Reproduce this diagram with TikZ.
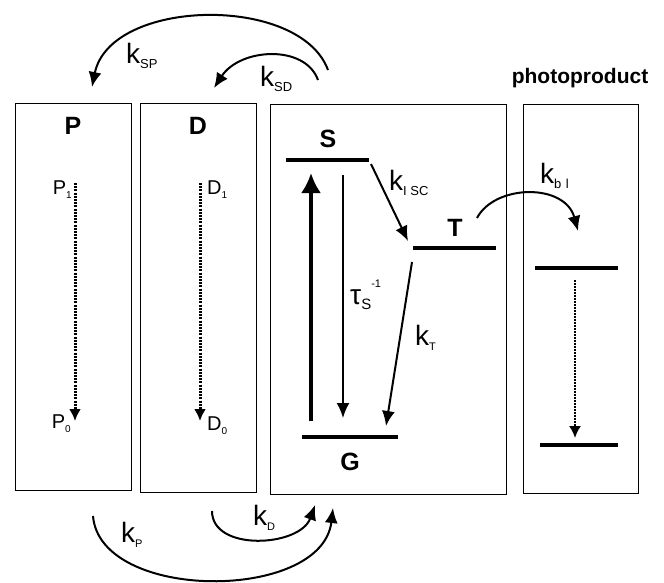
\documentclass[tikz,border=0pt]{standalone}
\usepackage{fontspec}
\setmainfont{Liberation Sans}
\usetikzlibrary{arrows.meta}
\newcommand{\sbs}[2]{\raisebox{-0.35ex}{\fontsize{#1}{#1}\selectfont #2}}
\begin{document}
\begin{tikzpicture}[x=1pt,y=-1pt,
  panel/.style={draw,line width=0.7pt},
  level/.style={line width=3.4pt},
  big/.style={font=\fontsize{25}{27}\selectfont\bfseries},
  klab/.style={font=\fontsize{28}{30}\selectfont},
  slab/.style={font=\fontsize{20}{22}\selectfont},
  arr/.style={line width=2pt,-{Latex[length=15pt,width=13pt]}},
  darr/.style={line width=3pt,dash pattern=on 2pt off 1.2pt,-{Latex[length=12pt,width=12pt]}}]
\useasboundingbox (0,0) rectangle (664,583);
% panels
\draw[panel] (15,103) rectangle (131,490);
\draw[panel] (140,103) rectangle (256,492);
\draw[panel] (270,104) rectangle (506,494);
\draw[panel] (523,104) rectangle (638,493);
% titles
\node[big] (Pt) at (73,126) {P};
\node[big] (Dt) at (198,126) {D};
\node[big] (St) at (328,139) {S};
\node[big] (Tt) at (455,228) {T};
\node[big] (Gt) at (350,462) {G};
\node[font=\fontsize{21}{23}\selectfont\bfseries] (pp) at (580,78) {photoproduct};
% levels
\coordinate (S1) at (286,160); \coordinate (S2) at (369,160);
\coordinate (T1) at (413,248); \coordinate (T2) at (496,248);
\coordinate (G1) at (302,437); \coordinate (G2) at (398,437);
\coordinate (Q1) at (535,268); \coordinate (Q2) at (618,268);
\coordinate (R1) at (540,445); \coordinate (R2) at (618,445);
\draw[level] (S1) -- (S2);
\draw[level] (T1) -- (T2);
\draw[level] (G1) -- (G2);
\draw[level] (Q1) -- (Q2);
\draw[level] (R1) -- (R2);
% transitions
\coordinate (a0) at (311,421); \coordinate (a1) at (311,173);
\draw[line width=3.4pt,-{Latex[length=20pt,width=20pt]}] (a0) -- (a1);
\coordinate (b0) at (343,175); \coordinate (b1) at (343,418);
\draw[arr] (b0) -- (b1);
\coordinate (c0) at (371,164); \coordinate (c1) at (408,241);
\draw[arr] (c0) -- (c1);
\coordinate (d0) at (412,262); \coordinate (d1) at (386,426);
\draw[arr] (d0) -- (d1);
\node[klab,anchor=west,inner sep=0] (kisc) at (389,183) {k\sbs{13}{I SC}};
\node[klab,anchor=west,inner sep=0] (tau) at (350,295) {τ\sbs{15}{S}\raisebox{1.1ex}{\fontsize{11}{12}\selectfont -1}};
\node[klab,anchor=west,inner sep=0] (kT) at (415,338) {k\sbs{11}{T}};
% P and D
\coordinate (p1) at (75,183); \coordinate (p0) at (75,421);
\draw[darr] (p1) -- (p0);
\node[slab,anchor=east,inner sep=0] (P1) at (72,190) {P\raisebox{-0.4ex}{\fontsize{10}{10}\selectfont 1}};
\node[slab,anchor=east,inner sep=0] (P0) at (71,424) {P\raisebox{-0.4ex}{\fontsize{10}{10}\selectfont 0}};
\coordinate (e1) at (200,183); \coordinate (e0) at (200,421);
\draw[darr] (e1) -- (e0);
\node[slab,anchor=west,inner sep=0] (D1) at (207,190) {D\raisebox{-0.4ex}{\fontsize{10}{10}\selectfont 1}};
\node[slab,anchor=west,inner sep=0] (D0) at (207,426) {D\raisebox{-0.4ex}{\fontsize{10}{10}\selectfont 0}};
% photoproduct decay
\coordinate (f1) at (575,280); \coordinate (f0) at (575,438);
\draw[darr,line width=2pt,dash pattern=on 1.6pt off 1.4pt] (f1) -- (f0);
% k_bl
\coordinate (g0) at (477,218); \coordinate (g1) at (578,231);
\draw[arr] (g0) .. controls (495,184) and (565,183) .. (g1);
\node[klab,anchor=west,inner sep=0] (kbl) at (540,176) {k\sbs{13}{b\,\,l}};
% k_SP, k_SD
\coordinate (h0) at (328,70); \coordinate (h1) at (92,87);
\draw[arr] (h0) .. controls (300,-6) and (110,-2) .. (h1);
\node[klab,anchor=west,inner sep=0] (kSP) at (126,56) {k\sbs{13}{SP}};
\coordinate (i0) at (318,80); \coordinate (i1) at (214,88);
\draw[arr] (i0) .. controls (305,44) and (240,48) .. (i1);
\node[klab,anchor=west,inner sep=0] (kSD) at (260,79) {k\sbs{13}{SD}};
% k_P, k_D
\coordinate (j0) at (93,516); \coordinate (j1) at (333,508);
\draw[arr] (j0) .. controls (100,602) and (322,602) .. (j1);
\node[klab,anchor=west,inner sep=0] (kP) at (121,535) {k\sbs{11}{P}};
\coordinate (l0) at (212,511); \coordinate (l1) at (315,505);
\draw[arr] (l0) .. controls (212,552) and (300,547) .. (l1);
\node[klab,anchor=west,inner sep=0] (kD) at (253,518) {k\sbs{11}{D}};
\end{tikzpicture}
\end{document}
